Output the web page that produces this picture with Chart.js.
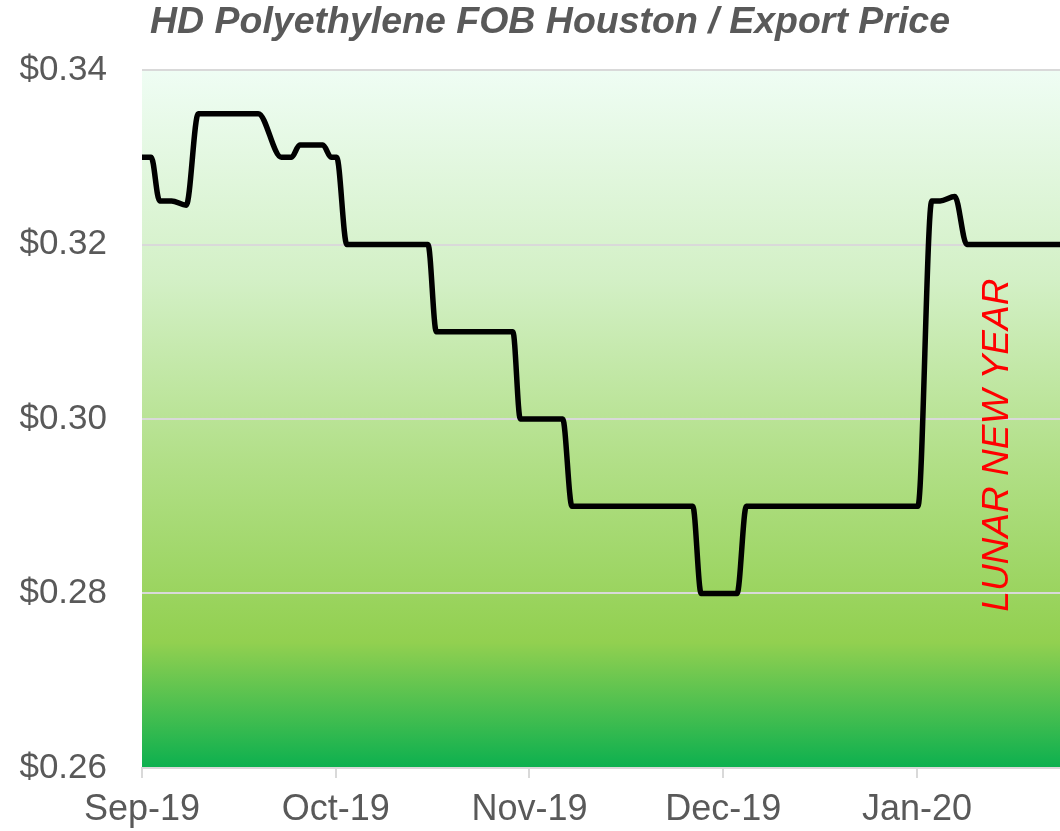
<!DOCTYPE html>
<html>
<head>
<meta charset="utf-8">
<script src="https://cdn.jsdelivr.net/npm/chart.js@4.4.0/dist/chart.umd.min.js"></script>
<style>
  html, body { margin: 0; padding: 0; background: #fff; }
  #wrap { width: 1060px; height: 831px; }
</style>
</head>
<body>
<div id="wrap"><canvas id="priceChart" width="1060" height="831"></canvas></div>
<script>
// trading-day index (0 = first day of Sep-19) and price in $/lb
const dayIdx = [0, 1, 1.9, 3.2, 4.8, 6.1, 12.6, 15.1, 16.2, 17.1, 19.6, 20.5, 21.1, 22.2,
  31.0, 31.9, 40.2, 41.0, 45.6, 46.6, 59.7, 60.6, 64.5, 65.5, 84.1, 85.6, 86.5, 88.1, 89.4, 99.5];
const price = [0.330, 0.330, 0.325, 0.325, 0.3245, 0.335, 0.335, 0.330, 0.330, 0.3314, 0.3314, 0.330, 0.330, 0.320,
  0.320, 0.310, 0.310, 0.300, 0.300, 0.290, 0.290, 0.280, 0.280, 0.290, 0.290, 0.325, 0.325, 0.3255, 0.320, 0.320];

const tickPos = [0, 21, 42, 63, 84];
const tickLabels = ["Sep-19", "Oct-19", "Nov-19", "Dec-19", "Jan-20"];

const chartTitle = "HD Polyethylene FOB Houston / Export Price";
const noteText = "LUNAR NEW YEAR";
const noteDay = 92.7;
const notePrice = 0.297;

const grey = "#595959";
const gridGrey = "#d9d9d9";

const points = dayIdx.map((d, i) => ({ x: d, y: price[i] }));

// green gradient behind the plot area
const plotBackground = {
  id: "plotBackground",
  beforeDraw(chart) {
    const { ctx, chartArea: a } = chart;
    const g = ctx.createLinearGradient(0, a.top, 0, a.bottom);
    g.addColorStop(0, "#effdf4");
    g.addColorStop(0.3, "#d3f0c6");
    g.addColorStop(0.55, "#b3e08a");
    g.addColorStop(0.82, "#92d050");
    g.addColorStop(1, "#0cb04f");
    ctx.save();
    ctx.fillStyle = g;
    ctx.fillRect(a.left, a.top, a.right - a.left, a.bottom - a.top);
    ctx.restore();
  }
};

// title and the rotated note
const labels = {
  id: "labels",
  afterDraw(chart) {
    const { ctx } = chart;
    ctx.save();
    ctx.fillStyle = grey;
    ctx.font = "italic bold 37.5px 'Liberation Sans', Arial, sans-serif";
    ctx.textAlign = "center";
    ctx.textBaseline = "middle";
    ctx.fillText(chartTitle, 550, 23);

    const x = chart.scales.x.getPixelForValue(noteDay);
    const y = chart.scales.y.getPixelForValue(notePrice);
    ctx.translate(x, y);
    ctx.rotate(-Math.PI / 2);
    ctx.fillStyle = "#ff0000";
    ctx.font = "italic 37px 'Liberation Sans', Arial, sans-serif";
    ctx.fillText(noteText, 0, 0);
    ctx.restore();
  }
};

new Chart(document.getElementById("priceChart"), {
  type: "line",
  data: {
    datasets: [{
      data: points,
      borderColor: "#000",
      borderWidth: 5.5,
      pointRadius: 0,
      cubicInterpolationMode: "monotone",
      borderCapStyle: "round",
      borderJoinStyle: "round",
      fill: false,
    }],
  },
  options: {
    responsive: false,
    animation: false,
    layout: { padding: { top: 70, right: 0, bottom: 0, left: 0 } },
    plugins: {
      legend: { display: false },
      tooltip: { enabled: false },
    },
    scales: {
      x: {
        type: "linear",
        min: 0,
        max: 99.5,
        afterBuildTicks: s => { s.ticks = tickPos.map(v => ({ value: v })); },
        afterFit: s => { s.height = 63; },
        ticks: {
          callback: (v, i) => tickLabels[i],
          color: grey,
          font: { family: "'Liberation Sans', Arial, sans-serif", size: 36 },
          padding: 10,
          maxRotation: 0,
          autoSkip: false,
        },
        grid: { drawOnChartArea: false, drawTicks: true, tickLength: 10, color: gridGrey, lineWidth: 2 },
        border: { color: gridGrey, width: 2 },
      },
      y: {
        min: 0.26,
        max: 0.34,
        afterFit: s => { s.width = 142; },
        ticks: {
          stepSize: 0.02,
          callback: v => "$" + v.toFixed(2),
          color: grey,
          font: { family: "'Liberation Sans', Arial, sans-serif", size: 35 },
          padding: 35,
        },
        grid: { color: gridGrey, lineWidth: 2, drawTicks: false },
        border: { display: false },
      },
    },
  },
  plugins: [plotBackground, labels],
});
</script>
</body>
</html>
